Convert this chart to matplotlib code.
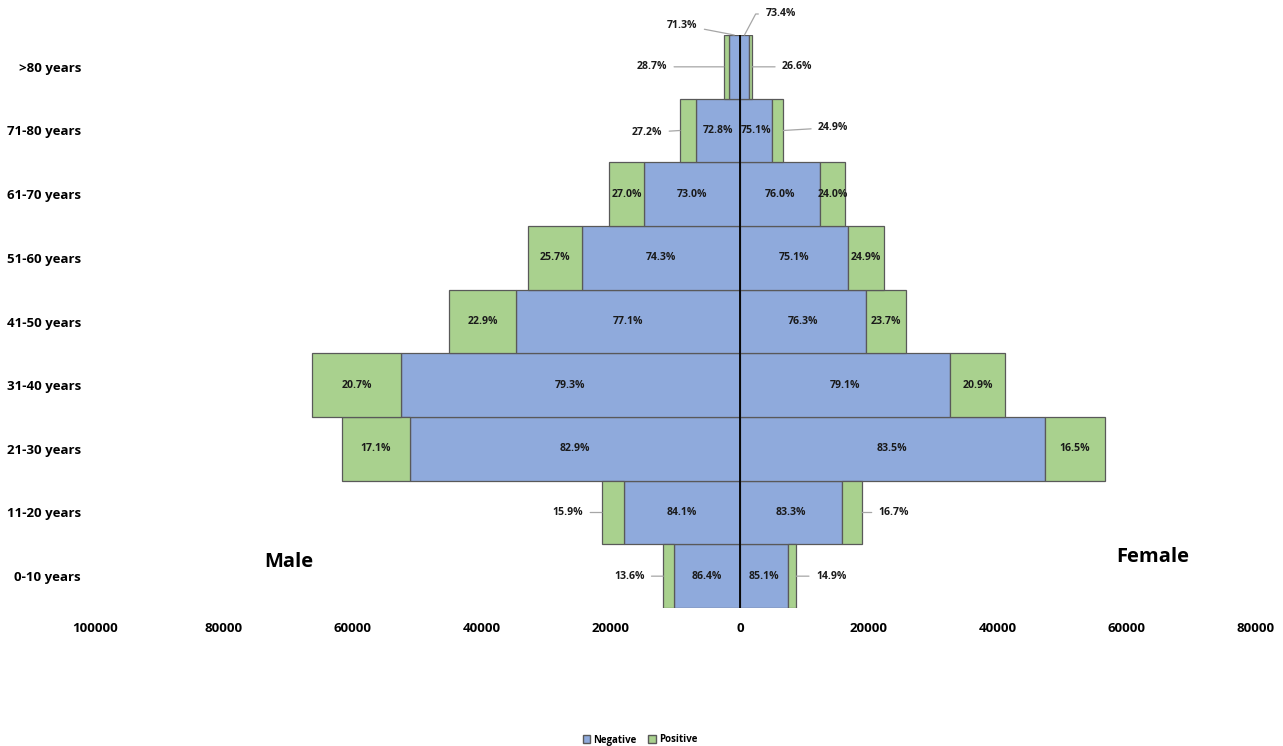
import matplotlib.pyplot as plt
from matplotlib.patches import Patch

plt.rcParams['font.family'] = ['Open Sans', 'DejaVu Sans']
plt.rcParams['font.weight'] = 'bold'

age_groups = ['0-10 years', '11-20 years', '21-30 years', '31-40 years', '41-50 years',
              '51-60 years', '61-70 years', '71-80 years', '>80 years']

# totals per age group and share of negative / positive results
male_total = [11900, 21400, 61700, 66300, 45100, 32900, 20300, 9300, 2500]
male_neg_pct = [86.4, 84.1, 82.9, 79.3, 77.1, 74.3, 73.0, 72.8, 71.3]
male_pos_pct = [13.6, 15.9, 17.1, 20.7, 22.9, 25.7, 27.0, 27.2, 28.7]

female_total = [8700, 18900, 56600, 41100, 25700, 22300, 16300, 6700, 1900]
female_neg_pct = [85.1, 83.3, 83.5, 79.1, 76.3, 75.1, 76.0, 75.1, 73.4]
female_pos_pct = [14.9, 16.7, 16.5, 20.9, 23.7, 24.9, 24.0, 24.9, 26.6]

x_ticks = [-100000, -80000, -60000, -40000, -20000, 0, 20000, 40000, 60000, 80000]

NEG_COLOR = '#8FAADC'
POS_COLOR = '#A9D18E'
EDGE = '#595959'

male_neg = [t * p / 100 for t, p in zip(male_total, male_neg_pct)]
male_pos = [t * p / 100 for t, p in zip(male_total, male_pos_pct)]
female_neg = [t * p / 100 for t, p in zip(female_total, female_neg_pct)]
female_pos = [t * p / 100 for t, p in zip(female_total, female_pos_pct)]

fig = plt.figure(figsize=(12.83, 7.46), dpi=100)
ax = fig.add_axes([95 / 1283, 1 - 608 / 746, 1161 / 1283, 573 / 746])

y = list(range(len(age_groups)))
bar_kw = dict(height=1.0, edgecolor=EDGE, linewidth=0.9)
ax.barh(y, [-v for v in male_neg], color=NEG_COLOR, **bar_kw)
ax.barh(y, [-v for v in male_pos], left=[-v for v in male_neg], color=POS_COLOR, **bar_kw)
ax.barh(y, female_neg, color=NEG_COLOR, **bar_kw)
ax.barh(y, female_pos, left=female_neg, color=POS_COLOR, **bar_kw)
ax.axvline(0, color='black', linewidth=1.3, zorder=5)

ax.set_xlim(-100000, 80000)
ax.set_ylim(-0.5, len(age_groups) - 0.5)
ax.set_xticks(x_ticks)
ax.set_xticklabels([str(abs(v)) for v in x_ticks])
ax.set_yticks(y)
ax.set_yticklabels(age_groups)
ax.tick_params(axis='x', length=0, pad=10, labelsize=9.5)
ax.tick_params(axis='y', length=0, pad=10, labelsize=9.5)
for s in ax.spines.values():
    s.set_visible(False)

# labels that sit outside their segment: (side, series, row) -> (anchor, dx, dy, bend) in pixels
callouts = {
    ('m', 'neg', 8): ('top', -52, 10, None),
    ('f', 'neg', 8): ('top', 36, 21, 62),
    ('m', 'pos', 8): ('edge', -72, 0, None),
    ('f', 'pos', 8): ('edge', 45, 0, None),
    ('m', 'pos', 7): ('edge', -33, -2, None),
    ('f', 'pos', 7): ('edge', 50, 3, None),
    ('m', 'pos', 1): ('edge', -34, 0, None),
    ('f', 'pos', 1): ('edge', 32, 0, None),
    ('m', 'pos', 0): ('edge', -34, 0, None),
    ('f', 'pos', 0): ('edge', 35, 0, None),
}

lbl_kw = dict(fontsize=7.6, fontweight='bold', color='#1a1a1a')
for side, neg, pos, npct, ppct in [('m', male_neg, male_pos, male_neg_pct, male_pos_pct),
                                   ('f', female_neg, female_pos, female_neg_pct, female_pos_pct)]:
    sgn = -1 if side == 'm' else 1
    for i in y:
        segs = [('neg', 0, neg[i], npct[i]), ('pos', neg[i], pos[i], ppct[i])]
        for name, start, width, pct in segs:
            txt = f'{pct:.1f}%'
            key = (side, name, i)
            if key in callouts:
                where, dx, dy, bend = callouts[key]
                if where == 'edge':
                    xy = (sgn * (start + width), i)
                else:
                    xy = (sgn * (start + width / 2), i + 0.5)
                arrow = dict(arrowstyle='-', color='#A6A6A6', lw=0.9, shrinkA=3, shrinkB=0)
                if bend is not None:
                    arrow['connectionstyle'] = f'angle,angleA=0,angleB={bend},rad=0'
                ax.annotate(txt, xy=xy, xytext=(dx * 0.72, dy * 0.72),
                            textcoords='offset points', ha='center', va='center',
                            arrowprops=arrow, **lbl_kw)
            else:
                ax.text(sgn * (start + width / 2), i, txt, ha='center', va='center', **lbl_kw)

fig.text(289 / 1283, 1 - 562 / 746, 'Male', fontsize=14.5, fontweight='bold',
         ha='center', va='center')
fig.text(1153 / 1283, 1 - 557 / 746, 'Female', fontsize=14.5, fontweight='bold',
         ha='center', va='center')

handles = [Patch(facecolor=NEG_COLOR, edgecolor=EDGE, label='Negative'),
           Patch(facecolor=POS_COLOR, edgecolor=EDGE, label='Positive')]
fig.legend(handles=handles, loc='center', bbox_to_anchor=(640 / 1283, 1 - 740 / 746),
           ncol=2, frameon=False, fontsize=7, handlelength=0.8, handleheight=0.8,
           handletextpad=0.3, columnspacing=1.2)

fig.savefig('out.png', dpi=100)
